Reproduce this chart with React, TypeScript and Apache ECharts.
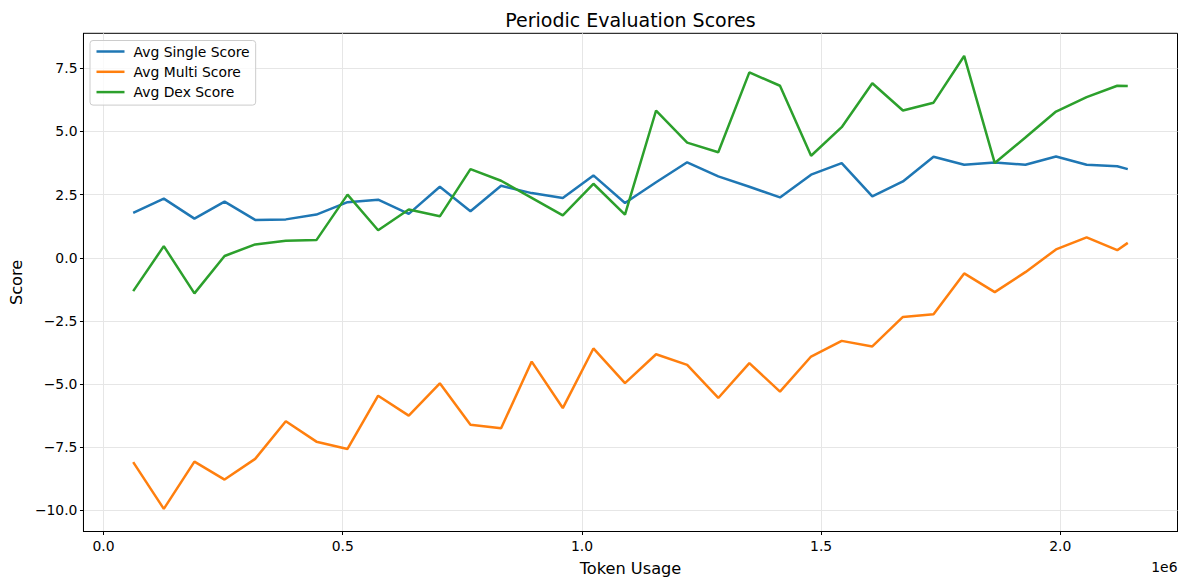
import React, { useEffect, useRef } from "react";
import * as echarts from "echarts";

const tokens = [62000, 126000, 190000, 253000, 317000, 381000, 445000, 510000, 574000, 638000, 703000, 767000, 831000, 895000, 960000, 1024000, 1090000, 1155000, 1220000, 1285000, 1350000, 1414000, 1479000, 1543000, 1607000, 1671000, 1735000, 1799000, 1863000, 1927000, 1991000, 2055000, 2119000, 2141000];
const avgSingle = [1.78, 2.34, 1.55, 2.22, 1.5, 1.52, 1.71, 2.2, 2.3, 1.74, 2.81, 1.84, 2.85, 2.56, 2.37, 3.26, 2.17, 2.99, 3.78, 3.22, 2.81, 2.39, 3.29, 3.75, 2.43, 3.02, 4.0, 3.68, 3.77, 3.68, 4.01, 3.68, 3.62, 3.51];
const avgMulti = [-8.09, -9.94, -8.07, -8.78, -7.96, -6.47, -7.28, -7.57, -5.46, -6.25, -4.97, -6.61, -6.75, -4.11, -5.95, -3.59, -4.96, -3.82, -4.24, -5.55, -4.17, -5.3, -3.91, -3.29, -3.51, -2.34, -2.24, -0.62, -1.36, -0.57, 0.33, 0.81, 0.3, 0.59];
const avgDex = [-1.32, 0.46, -1.41, 0.07, 0.53, 0.67, 0.7, 2.5, 1.09, 1.91, 1.64, 3.51, 3.05, 2.37, 1.68, 2.93, 1.71, 5.83, 4.56, 4.18, 7.34, 6.81, 4.04, 5.17, 6.91, 5.83, 6.14, 7.99, 3.75, 4.76, 5.79, 6.36, 6.81, 6.8];

const seriesNames = ["Avg Single Score", "Avg Multi Score", "Avg Dex Score"];
const seriesColors = ["#1f77b4", "#ff7f0e", "#2ca02c"];
const xTicks = [0, 500000, 1000000, 1500000, 2000000];
const yTicks = [-10, -7.5, -5, -2.5, 0, 2.5, 5, 7.5];

const FONT = "DejaVu Sans";

export default function App() {
  const ref = useRef<HTMLDivElement>(null);
  useEffect(() => {
    if (!ref.current) return;
    const chart = echarts.init(ref.current, null, { renderer: "svg" });
    const xr = tokens[tokens.length - 1] - tokens[0];
    const xMin = tokens[0] - 0.05 * xr;
    const xMax = tokens[tokens.length - 1] + 0.05 * xr;
    const all = [...avgSingle, ...avgMulti, ...avgDex];
    const lo = Math.min(...all);
    const hi = Math.max(...all);
    const yr = hi - lo;
    const yMin = lo - 0.05 * yr;
    const yMax = hi + 0.05 * yr;
    const fmt = (v: number) => v.toFixed(1).replace("-", "\u2212");
    const dataSets = [avgSingle, avgMulti, avgDex];
    chart.setOption({
      animation: false,
      backgroundColor: "#ffffff",
      textStyle: { fontFamily: FONT },
      grid: {
        left: 82.7,
        right: 9.5,
        top: 33.3,
        bottom: 48.3,
        show: true,
        borderColor: "#000000",
        borderWidth: 1,
        backgroundColor: "#ffffff",
      },
      legend: {
        orient: "vertical",
        left: 90,
        top: 40.5,
        data: seriesNames,
        icon: "rect",
        itemWidth: 28,
        itemHeight: 2.5,
        itemGap: 6.3,
        padding: [4, 6, 6, 6.5],
        backgroundColor: "rgba(255,255,255,0.8)",
        borderColor: "#cccccc",
        borderWidth: 1,
        borderRadius: 3,
        textStyle: {
          fontFamily: FONT,
          fontSize: 13.9,
          lineHeight: 14,
          color: "#000000",
          padding: [0, 0, 0, 4],
        },
      },
      xAxis: {
        type: "value",
        min: xMin,
        max: xMax,
        name: "Token Usage",
        nameLocation: "middle",
        nameGap: 28.5,
        nameTextStyle: { fontFamily: FONT, fontSize: 16.2, color: "#000000" },
        axisLine: { show: true, onZero: false, lineStyle: { color: "#000000", width: 1 } },
        axisTick: { show: true, inside: false, length: 3.5, customValues: xTicks, lineStyle: { color: "#000000", width: 1 } },
        axisLabel: {
          customValues: xTicks,
          margin: 7,
          fontFamily: FONT,
          fontSize: 13.9,
          color: "#000000",
          formatter: (v: number) => fmt(v / 1e6),
        },
        splitLine: { show: true, lineStyle: { color: "#e6e6e6", width: 1 } },
      },
      yAxis: {
        type: "value",
        min: yMin,
        max: yMax,
        name: "Score",
        nameLocation: "middle",
        nameGap: 58,
        nameTextStyle: { fontFamily: FONT, fontSize: 16.2, color: "#000000" },
        axisLine: { show: true, onZero: false, lineStyle: { color: "#000000", width: 1 } },
        axisTick: { show: true, inside: false, length: 3.5, customValues: yTicks, lineStyle: { color: "#000000", width: 1 } },
        axisLabel: {
          customValues: yTicks,
          margin: 6,
          fontFamily: FONT,
          fontSize: 13.9,
          color: "#000000",
          formatter: (v: number) => fmt(v),
        },
        splitLine: { show: true, lineStyle: { color: "#e6e6e6", width: 1 } },
      },
      graphic: [
        {
          type: "text",
          x: 630.5,
          y: 19.5,
          style: {
            text: "Periodic Evaluation Scores",
            fontFamily: FONT,
            fontSize: 19,
            fill: "#000000",
            textAlign: "center",
            textVerticalAlign: "middle",
          },
        },
        {
          type: "text",
          x: 1177.5,
          y: 567,
          style: {
            text: "1e6",
            fontFamily: FONT,
            fontSize: 13.9,
            fill: "#000000",
            textAlign: "right",
            textVerticalAlign: "middle",
          },
        },
      ],
      series: dataSets.map((d, i) => ({
        name: seriesNames[i],
        type: "line",
        data: tokens.map((t, j) => [t, d[j]]),
        showSymbol: false,
        symbol: "none",
        color: seriesColors[i],
        lineStyle: { color: seriesColors[i], width: 2.5 },
        itemStyle: { color: seriesColors[i] },
      })),
    });
    return () => chart.dispose();
  }, []);
  return (
    <div
      ref={ref}
      style={{ position: "fixed", left: 0, top: 0, width: 1187, height: 581, background: "#ffffff" }}
    />
  );
}
